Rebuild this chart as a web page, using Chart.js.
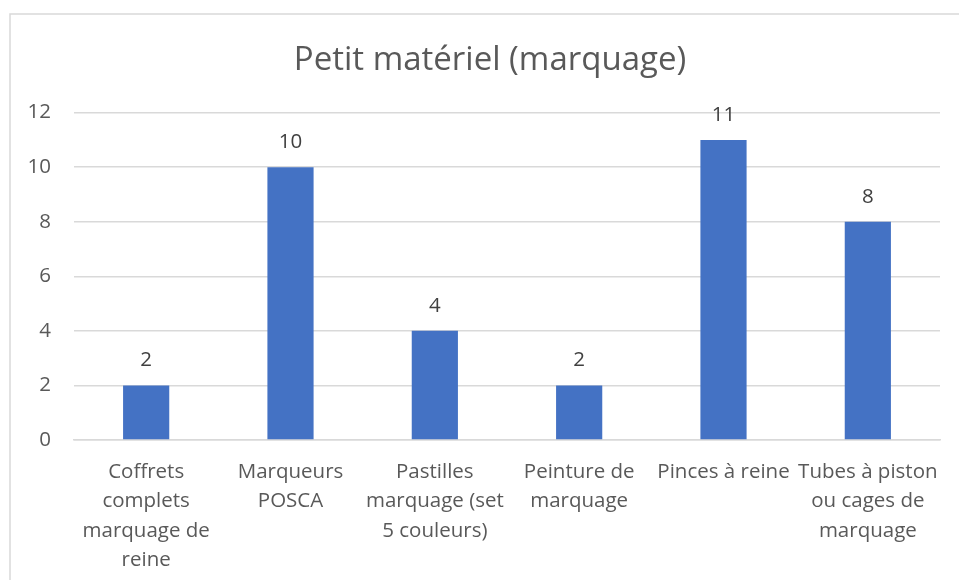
<!DOCTYPE html>
<html>
<head>
<meta charset="utf-8">
<script src="https://cdn.jsdelivr.net/npm/chart.js@4"></script>
<style>
  html, body { margin: 0; padding: 0; background: #fff; }
  #wrap { width: 959px; height: 580px; position: relative; }
</style>
</head>
<body>
<div id="wrap"><canvas id="myChart"></canvas></div>
<script>
const chartTitle = 'Petit matériel (marquage)';
const categories = [
  ['Coffrets', 'complets', 'marquage de', 'reine'],
  ['Marqueurs', 'POSCA'],
  ['Pastilles', 'marquage (set', '5 couleurs)'],
  ['Peinture de', 'marquage'],
  ['Pinces à reine'],
  ['Tubes à piston', 'ou cages de', 'marquage']
];
const counts = [2, 10, 4, 2, 11, 8];
const yTicks = [0, 2, 4, 6, 8, 10, 12];

const textColor = '#595959';
const fontFamily = '"Open Sans", "DejaVu Sans", sans-serif';

// value labels above each bar
const valueLabels = {
  id: 'valueLabels',
  afterDatasetsDraw(chart) {
    let ctx = chart.ctx;
    let meta = chart.getDatasetMeta(0);
    ctx.save();
    ctx.fillStyle = '#404040';
    ctx.font = '20.5px ' + fontFamily;
    ctx.textAlign = 'center';
    ctx.textBaseline = 'middle';
    meta.data.forEach((bar, i) => {
      ctx.fillText(String(counts[i]), bar.x, bar.y - 25);
    });
    ctx.restore();
  }
};

// light frame round the chart area, and title nudged right a little
const frame = {
  id: 'frame',
  afterLayout(chart) {
    if (chart.titleBlock) {
      chart.titleBlock.left += 20;
    }
  },
  beforeDraw(chart) {
    let ctx = chart.ctx;
    ctx.save();
    ctx.strokeStyle = '#d9d9d9';
    ctx.lineWidth = 1.5;
    ctx.strokeRect(10, 14, 980, 620);
    ctx.restore();
  }
};

let ctx = document.getElementById('myChart');
let myChart = new Chart(ctx, {
  type: 'bar',
  data: {
    labels: categories,
    datasets: [{
      data: counts,
      backgroundColor: '#4472C4',
      borderWidth: 0,
      categoryPercentage: 1,
      barPercentage: 0.32
    }]
  },
  options: {
    responsive: true,
    maintainAspectRatio: false,
    animation: false,
    layout: { padding: { left: 20, right: 19, top: 41, bottom: 0 } },
    plugins: {
      legend: { display: false },
      tooltip: { enabled: false },
      title: {
        display: true,
        text: chartTitle,
        color: textColor,
        font: { family: fontFamily, size: 33, weight: 'normal', lineHeight: 1.2 },
        padding: { top: 0, bottom: 32 }
      }
    },
    scales: {
      x: {
        grid: { display: false, drawTicks: false },
        border: { color: '#d9d9d9', width: 1.5 },
        ticks: {
          color: textColor,
          font: { family: fontFamily, size: 20.5, lineHeight: 1.44 },
          padding: 17,
          maxRotation: 0,
          autoSkip: false
        },
        afterFit(scale) { scale.height = 140; }
      },
      y: {
        min: 0,
        max: 12,
        afterBuildTicks(scale) { scale.ticks = yTicks.map(v => ({ value: v })); },
        grid: { color: '#d9d9d9', lineWidth: 1.5, drawTicks: false },
        border: { display: false },
        ticks: {
          color: textColor,
          font: { family: fontFamily, size: 20.5 },
          padding: 23
        },
        afterFit(scale) { scale.width = 54; }
      }
    }
  },
  plugins: [valueLabels, frame]
});
</script>
</body>
</html>
